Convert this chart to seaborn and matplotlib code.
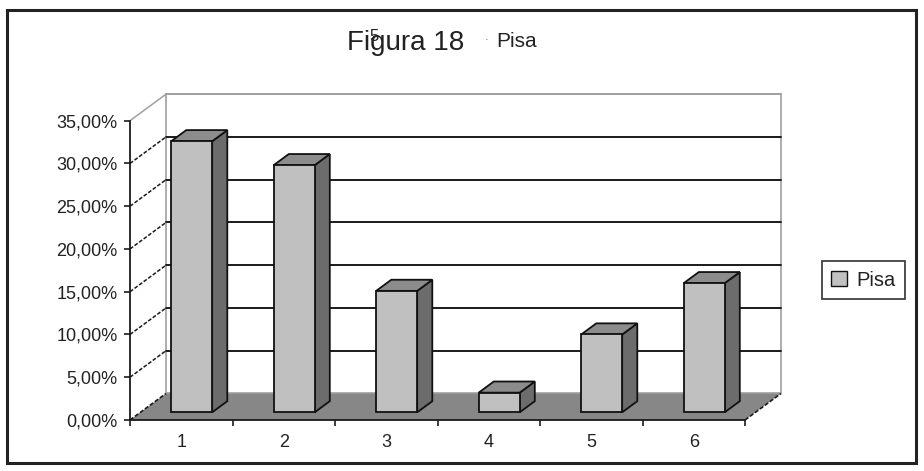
import matplotlib
matplotlib.use("Agg")
import matplotlib.pyplot as plt
import matplotlib.transforms as mtransforms
from matplotlib.patches import Polygon, Rectangle, Patch
import seaborn as sns
import pandas as pd

# Chart data
categories = ["1", "2", "3", "4", "5", "6"]
pisa = [31.7, 28.9, 14.2, 2.3, 9.1, 15.1]
y_ticks = [0, 5, 10, 15, 20, 25, 30, 35]
y_tick_labels = [f"{t:.2f}".replace(".", ",") + "%" for t in y_ticks]
series_name = "Pisa"
title_main = "Figura 18"
title_sub = "Pisa"

sns.set_theme(style="white")
plt.rcParams["font.family"] = ["Liberation Sans", "DejaVu Sans"]

W, H, DPI = 924, 471, 100
fig = plt.figure(figsize=(W / DPI, H / DPI), dpi=DPI)
fig.patch.set_facecolor("white")


def fx(px):
    return px / W


def fy(py):
    return 1 - py / H


ax = fig.add_axes([fx(130), fy(420), (745 - 130) / W, (420 - 120.7) / H])
ax.set_facecolor("none")

df = pd.DataFrame({"cat": categories, "val": pisa})
sns.barplot(data=df, x="cat", y="val", color="#c0c0c0", saturation=1,
            width=0.4, edgecolor="#111111", linewidth=1.3, ax=ax, zorder=4)

ax.set_xlim(-0.5, 5.5)
ax.set_ylim(0, 35)
x_lo, x_hi = ax.get_xlim()
y_top = y_ticks[-1]

# depth of the 3-D box in data units, and the slab occupied by the bars
DX, DY = 0.351, 3.1
F0, F1 = 0.29, 0.71
DEPTH = F1 - F0

wall_edge = "#a0a0a0"
dark = "#1a1a1a"

# back wall
ax.add_patch(Polygon([(x_lo + DX, DY), (x_hi + DX, DY), (x_hi + DX, y_top + DY),
                      (x_lo + DX, y_top + DY)], closed=True, facecolor="white",
                     edgecolor=wall_edge, lw=1.2, zorder=1, clip_on=False))
# gridlines on back wall and left wall
for t in y_ticks[1:]:
    col = wall_edge if t == y_top else dark
    ax.plot([x_lo + DX, x_hi + DX], [t + DY, t + DY], color=col, lw=1.4,
            zorder=1.5, clip_on=False)
    ax.plot([x_lo, x_lo + DX], [t, t + DY], color=col, lw=1.1,
            ls="-" if t == y_top else (0, (2.5, 1.2)), zorder=1.5, clip_on=False)

# floor
ax.add_patch(Polygon([(x_lo, 0), (x_hi, 0), (x_hi + DX, DY), (x_lo + DX, DY)],
                     closed=True, facecolor="#878787", edgecolor="none",
                     zorder=2, clip_on=False))
for xe in (x_lo, x_hi):
    ax.plot([xe, xe + DX], [0, DY], color=dark, lw=1.2, ls=(0, (2.5, 1.2)),
            zorder=2.1, clip_on=False)

# give each bar its depth: shift the front face and add side and top faces
shift = mtransforms.Affine2D().translate(F0 * DX, F0 * DY) + ax.transData
for p in list(ax.patches):
    if not hasattr(p, "get_width") or p.get_height() <= 0 or p.get_width() > 1:
        continue
    x0, w, h = p.get_x(), p.get_width(), p.get_height()
    p.set_transform(shift)
    p.set_clip_on(False)
    side = [(x0 + w, 0), (x0 + w, h), (x0 + w + DEPTH * DX, h + DEPTH * DY),
            (x0 + w + DEPTH * DX, DEPTH * DY)]
    top = [(x0, h), (x0 + w, h), (x0 + w + DEPTH * DX, h + DEPTH * DY),
           (x0 + DEPTH * DX, h + DEPTH * DY)]
    ax.add_patch(Polygon(side, closed=True, facecolor="#6c6c6c", edgecolor="#111111",
                         lw=1.3, transform=shift, zorder=3.9, clip_on=False))
    ax.add_patch(Polygon(top, closed=True, facecolor="#8c8c8c", edgecolor="#111111",
                         lw=1.3, transform=shift, zorder=3.9, clip_on=False))

# axes
for s in ("top", "right"):
    ax.spines[s].set_visible(False)
for s in ("left", "bottom"):
    ax.spines[s].set_visible(True)
    ax.spines[s].set_color(dark)
    ax.spines[s].set_linewidth(1.3)
    ax.spines[s].set_zorder(2.5)

ax.set_xlabel("")
ax.set_ylabel("")
ax.set_yticks(y_ticks, y_tick_labels)
ax.tick_params(axis="y", left=True, direction="out", length=4, width=1.2,
               color=dark, pad=5, labelsize=13, labelcolor="#222222")
ax.set_xticks([i - 0.5 for i in range(len(categories) + 1)], minor=True)
ax.tick_params(axis="x", which="minor", bottom=True, direction="out", length=4,
               width=1.2, color=dark)
ax.tick_params(axis="x", which="major", bottom=True, length=0, pad=10,
               labelsize=13, labelcolor="#222222")

# legend
leg = fig.legend(handles=[Patch(facecolor="#c0c0c0", edgecolor="#111111",
                                label=series_name)],
                 loc="center", bbox_to_anchor=(fx(863.5), fy(280)), frameon=True,
                 fancybox=False, edgecolor="#111111", fontsize=14.5,
                 handlelength=0.8, handleheight=0.8, handletextpad=0.45,
                 borderpad=0.45, borderaxespad=0)
leg.get_frame().set_linewidth(1.3)
for txt in leg.get_texts():
    txt.set_color("#222222")

# title
fig.text(fx(347), fy(50), title_main, fontsize=20, color="#222222",
         ha="left", va="baseline")
fig.text(fx(369), fy(41), "5", fontsize=12, color="#222222",
         ha="left", va="baseline")
fig.text(fx(485), fy(43), "·", fontsize=8, color="#555555",
         ha="left", va="baseline")
fig.text(fx(496), fy(47), title_sub, fontsize=15, color="#222222",
         ha="left", va="baseline")

# outer frame
fig.add_artist(Rectangle((fx(7), fy(463)), (916 - 7) / W, (463 - 10) / H,
                         transform=fig.transFigure, fill=False, lw=2.2,
                         edgecolor="#222222"))

fig.savefig("out.png", dpi=DPI, facecolor="white")
